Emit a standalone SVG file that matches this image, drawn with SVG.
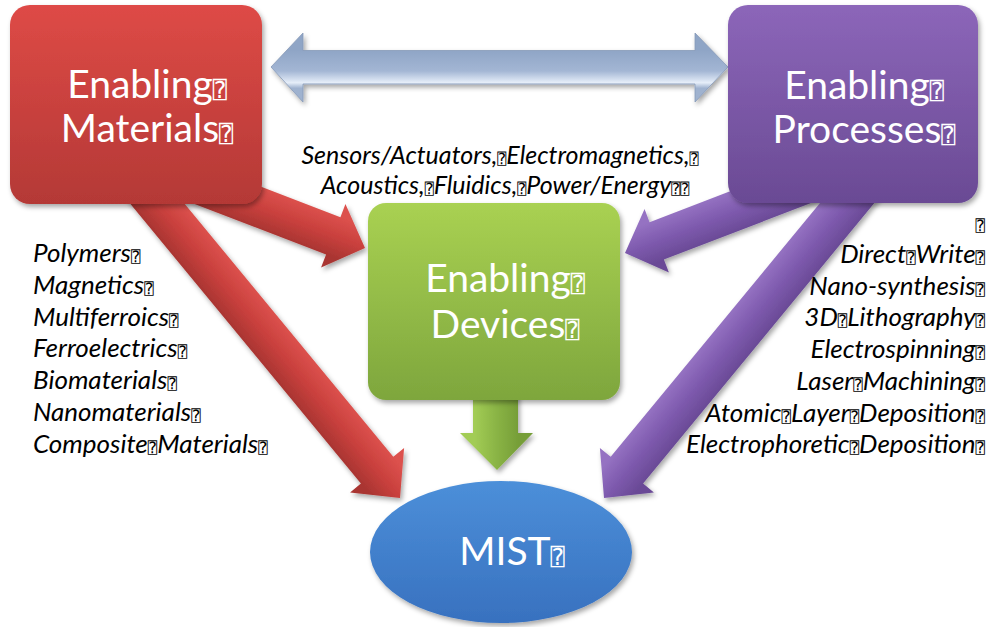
<svg xmlns="http://www.w3.org/2000/svg" width="990" height="627" viewBox="0 0 990 627">
  <defs>
    <style>
      .title { font-family: Lato, "Open Sans", "DejaVu Sans", sans-serif; font-size: 39px; fill: #ffffff; text-anchor: middle; }
      .list { font-family: Lato, "Open Sans", "DejaVu Sans", sans-serif; font-size: 26px; font-style: italic; fill: #000000; }
      .top { font-family: Lato, "Open Sans", "DejaVu Sans", sans-serif; font-size: 25px; font-style: italic; fill: #000000; text-anchor: middle; }
      .q { font-family: "DejaVu Sans", "DejaVu Sans Mono", sans-serif; font-style: normal; font-size: 0.6em; }
      .right { text-anchor: end; }
    </style>
    <filter id="shadow" x="-20%" y="-20%" width="140%" height="140%">
      <feDropShadow dx="2" dy="3" stdDeviation="2.5" flood-color="#000000" flood-opacity="0.35"/>
    </filter>
    <linearGradient id="gRedBox" x1="0" y1="0" x2="0" y2="1">
      <stop offset="0" stop-color="#de4a46"/>
      <stop offset="1" stop-color="#b43936"/>
    </linearGradient>
    <linearGradient id="gPurpleBox" x1="0" y1="0" x2="0" y2="1">
      <stop offset="0" stop-color="#8c66b9"/>
      <stop offset="1" stop-color="#6a4a94"/>
    </linearGradient>
    <linearGradient id="gGreenBox" x1="0" y1="0" x2="0" y2="1">
      <stop offset="0" stop-color="#a9d152"/>
      <stop offset="1" stop-color="#7ea63d"/>
    </linearGradient>
    <linearGradient id="gBlue" x1="0" y1="0" x2="0" y2="1">
      <stop offset="0" stop-color="#4c8fd9"/>
      <stop offset="1" stop-color="#3871bf"/>
    </linearGradient>
    <linearGradient id="gRedArrow" x1="0" y1="0" x2="0" y2="1">
      <stop offset="0.2" stop-color="#dc514d"/>
      <stop offset="0.5" stop-color="#c9403d"/>
      <stop offset="0.8" stop-color="#a93532"/>
    </linearGradient>
    <linearGradient id="gPurpleArrow" x1="0" y1="0" x2="0" y2="1">
      <stop offset="0.2" stop-color="#9572c2"/>
      <stop offset="0.5" stop-color="#7e5aae"/>
      <stop offset="0.8" stop-color="#6a4a96"/>
    </linearGradient>
    <linearGradient id="gGreenArrow" x1="0" y1="0" x2="1" y2="0">
      <stop offset="0.2" stop-color="#a2cc55"/>
      <stop offset="0.5" stop-color="#8ab445"/>
      <stop offset="0.8" stop-color="#769e38"/>
    </linearGradient>
    <linearGradient id="gBlueArrow" x1="0" y1="0" x2="0" y2="1">
      <stop offset="0.25" stop-color="#8fa5c6"/>
      <stop offset="0.55" stop-color="#a3b6d4"/>
      <stop offset="0.72" stop-color="#e6eef9"/>
      <stop offset="0.8" stop-color="#9fb2cf"/>
    </linearGradient>
    <!-- block arrow pointing along +x, tip at the origin -->
    <polygon id="arrowLong" points="0,0 -36,-35 -36,-21 -440,-21 -440,21 -36,21 -36,35"/>
    <polygon id="arrowShort" points="0,0 -34,-34 -34,-20 -230,-20 -230,20 -34,20 -34,34"/>
  </defs>

  <rect width="990" height="627" fill="#ffffff"/>

  <g id="connectors">
    <!-- Materials -> Devices -->
    <g filter="url(#shadow)">
      <use href="#arrowShort" transform="translate(365,248) rotate(21)" fill="url(#gRedArrow)"/>
    </g>
    <!-- Materials -> MIST -->
    <g filter="url(#shadow)">
      <use href="#arrowLong" transform="translate(400,498) rotate(50.5)" fill="url(#gRedArrow)"/>
    </g>
    <!-- Processes -> Devices -->
    <g filter="url(#shadow)">
      <use href="#arrowShort" transform="translate(625,253) rotate(159) scale(1,-1)" fill="url(#gPurpleArrow)"/>
    </g>
    <!-- Processes -> MIST -->
    <g filter="url(#shadow)">
      <use href="#arrowLong" transform="translate(604,498) rotate(129.5) scale(1,-1)" fill="url(#gPurpleArrow)"/>
    </g>
    <!-- Devices -> MIST -->
    <g filter="url(#shadow)">
      <polygon points="473,392 518,392 518,433 533,433 497,470 460,433 473,433" fill="url(#gGreenArrow)"/>
    </g>
    <!-- Materials <-> Processes -->
    <g filter="url(#shadow)">
      <polygon points="271,67 303,33 303,50.5 695,50.5 695,33 728,67 695,102 695,84 303,84 303,102" fill="url(#gBlueArrow)" stroke="#8699b8" stroke-width="0.8"/>
    </g>
  </g>

  <g id="materials">
    <rect x="10" y="5" width="252" height="199" rx="20" fill="url(#gRedBox)" filter="url(#shadow)"/>
    <text class="title" x="147" y="98">Enabling<tspan class="q">⍰</tspan></text>
    <text class="title" x="147" y="142">Materials<tspan class="q">⍰</tspan></text>
  </g>

  <g id="processes">
    <rect x="728" y="5" width="250" height="198" rx="20" fill="url(#gPurpleBox)" filter="url(#shadow)"/>
    <text class="title" x="864" y="99">Enabling<tspan class="q">⍰</tspan></text>
    <text class="title" x="864" y="143">Processes<tspan class="q">⍰</tspan></text>
  </g>

  <g id="devices">
    <rect x="368" y="203" width="252" height="197" rx="18" fill="url(#gGreenBox)" filter="url(#shadow)"/>
    <text class="title" x="505" y="292">Enabling<tspan class="q">⍰</tspan></text>
    <text class="title" x="505" y="338">Devices<tspan class="q">⍰</tspan></text>
  </g>

  <g id="mist">
    <ellipse cx="501" cy="552" rx="131" ry="71" fill="url(#gBlue)" filter="url(#shadow)"/>
    <text class="title" x="512" y="565">MIST<tspan class="q">⍰</tspan></text>
  </g>

  <g id="device-types">
    <text class="top" x="500" y="164">Sensors/Actuators,<tspan class="q">⍰</tspan>Electromagnetics,<tspan class="q">⍰</tspan></text>
    <text class="top" x="505" y="194">Acoustics,<tspan class="q">⍰</tspan>Fluidics,<tspan class="q">⍰</tspan>Power/Energy<tspan class="q">⍰⍰</tspan></text>
  </g>

  <g id="material-list">
    <text class="list" x="33" y="262">Polymers<tspan class="q">⍰</tspan></text>
    <text class="list" x="33" y="294">Magnetics<tspan class="q">⍰</tspan></text>
    <text class="list" x="33" y="325.5">Multiferroics<tspan class="q">⍰</tspan></text>
    <text class="list" x="33" y="357">Ferroelectrics<tspan class="q">⍰</tspan></text>
    <text class="list" x="33" y="389">Biomaterials<tspan class="q">⍰</tspan></text>
    <text class="list" x="33" y="421">Nanomaterials<tspan class="q">⍰</tspan></text>
    <text class="list" x="33" y="453">Composite<tspan class="q">⍰</tspan>Materials<tspan class="q">⍰</tspan></text>
  </g>

  <g id="process-list">
    <text class="list right" x="985" y="231"><tspan class="q">⍰</tspan></text>
    <text class="list right" x="985" y="263">Direct<tspan class="q">⍰</tspan>Write<tspan class="q">⍰</tspan></text>
    <text class="list right" x="985" y="294.5">Nano-synthesis<tspan class="q">⍰</tspan></text>
    <text class="list right" x="985" y="326">3D<tspan class="q">⍰</tspan>Lithography<tspan class="q">⍰</tspan></text>
    <text class="list right" x="985" y="358">Electrospinning<tspan class="q">⍰</tspan></text>
    <text class="list right" x="985" y="390">Laser<tspan class="q">⍰</tspan>Machining<tspan class="q">⍰</tspan></text>
    <text class="list right" x="985" y="421.5">Atomic<tspan class="q">⍰</tspan>Layer<tspan class="q">⍰</tspan>Deposition<tspan class="q">⍰</tspan></text>
    <text class="list right" x="985" y="453">Electrophoretic<tspan class="q">⍰</tspan>Deposition<tspan class="q">⍰</tspan></text>
  </g>
</svg>
